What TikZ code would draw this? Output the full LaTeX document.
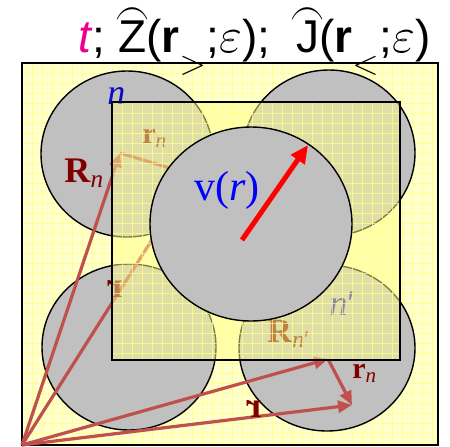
\documentclass[tikz,border=0pt]{standalone}
\usepackage{amsmath}
\usepackage{graphicx}
\usepackage{fontspec}
\setmainfont{Liberation Serif}
\setsansfont{Liberation Sans}
\usetikzlibrary{arrows.meta}
\definecolor{paper}{RGB}{255,255,204}
\definecolor{paperline}{RGB}{255,255,150}
\definecolor{ballgray}{RGB}{192,192,192}
\definecolor{vecred}{RGB}{192,80,77}
\definecolor{labred}{RGB}{128,0,0}
\definecolor{labblue}{RGB}{10,10,200}
\definecolor{veil}{RGB}{255,255,140}
\newcommand{\arcover}[1]{\ooalign{#1\cr\hidewidth\raisebox{0.56em}{\scalebox{0.7}[1]{$\frown$}}\hidewidth\cr}}
\newcommand{\lowsub}[1]{$_{\lower0.32em\hbox{$\scriptstyle#1$}}$}

\begin{document}
\begin{tikzpicture}[
  x=0.5pt, y=-0.5pt,
  ball/.style={fill=ballgray, draw=black, line width=0.7pt},
  gridln/.style={draw=paperline, line width=0.5pt},
  vec/.style={draw=vecred, line width=1.6pt, -{Triangle[length=7pt,width=6pt]}},
  force/.style={draw=red, line width=2.5pt, -{Triangle[length=9pt,width=8pt]}},
  lab/.style={text=labred, inner sep=0pt, anchor=base west},
  big/.style={font=\fontsize{18}{20}\selectfont},
  small/.style={font=\fontsize{15}{17}\selectfont}
]
\useasboundingbox (0,0) rectangle (450,446);

% cell with grid paper
\fill[paper] (22,63) rectangle (438,445);
\foreach \x in {32,42,...,432} \draw[gridln] (\x,63) -- (\x,445);
\foreach \y in {73,83,...,443} \draw[gridln] (22,\y) -- (438,\y);
\draw[line width=1pt] (22,63) rectangle (438,445);

% neighbour atoms
\path[ball] (127,154) ellipse [x radius=86, y radius=83];
\path[ball] (329,153) ellipse [x radius=86, y radius=83];
\path[ball] (129,347) ellipse [x radius=87, y radius=83];
\path[ball] (327,348) ellipse [x radius=88, y radius=83];

\coordinate (O) at (22,445);
\coordinate (Rn) at (120,153);
\coordinate (P) at (193,175);
\coordinate (Rm) at (328,359);
\coordinate (Q) at (352,405);
\draw[vec] (O) -- (Rn);
\draw[vec] (Rn) -- (P);
\draw[vec] (O) -- (P);
\draw[vec] (O) -- (Rm);
\draw[vec] (Rm) -- (Q);
\draw[vec] (O) -- (Q);

\node[lab, text=labblue, big] (n) at (107,104) {\textit{n}};
\node[lab, big] (Rnlab) at (64,182) {\textbf{R}\textsubscript{\textit{n}}};
\node[lab, small] (rnlab) at (142,143) {\textbf{r}\textsubscript{\textit{n}}};
\node[lab, text=labblue, big] (nplab) at (329,315) {\textit{n}′};
\node[lab, font=\fontsize{17}{19}\selectfont] (Rmlab) at (267,342) {\textbf{R}\textsubscript{\textit{n}′}};
\node[lab, small] (rmlab) at (352,378) {\textbf{r}\textsubscript{\textit{n}}};
\node[lab, big, anchor=center, xscale=-1] (ra) at (115,289) {\textbf{r}};
\node[lab, big, anchor=center, xscale=-1] (rb) at (254,409) {\textbf{r}};

% veil over the inner cell
\fill[veil, fill opacity=0.5] (112,102) rectangle (400,360);
\foreach \x in {122,132,...,392} \draw[gridln, draw opacity=0.7] (\x,102) -- (\x,360);
\foreach \y in {113,123,...,353} \draw[gridln, draw opacity=0.7] (112,\y) -- (400,\y);
\draw[line width=1pt] (112,102) rectangle (400,360);

% central atom
\path[ball] (251,224) ellipse [x radius=101, y radius=97];
\coordinate (vs) at (242,240);
\coordinate (ve) at (308,145);
\draw[force] (vs) -- (ve);
\node[lab, text=blue, font=\fontsize{21}{23}\selectfont] (vr) at (194,200) {v(\textit{r})};

\node[anchor=base west, inner sep=0pt, font=\sffamily\fontsize{23}{25}\selectfont] (title) at (78,52)
  {\textcolor{magenta}{\textit{t}}; \arcover{Z}(\textbf{r}\lowsub{>};$\varepsilon$);\ \ \arcover{J}(\textbf{r}\lowsub{<};$\varepsilon$)};
\end{tikzpicture}
\end{document}
